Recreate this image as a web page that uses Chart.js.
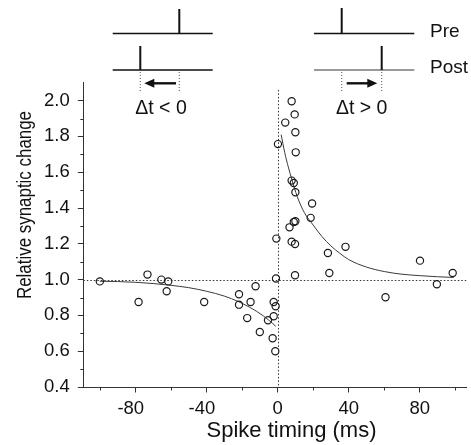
<!DOCTYPE html>
<html><head><meta charset="utf-8">
<script src="https://cdn.jsdelivr.net/npm/chart.js@4.4.1/dist/chart.umd.min.js"></script>
<style>html,body{margin:0;padding:0;background:#fff;overflow:hidden}canvas{display:block}</style>
</head><body>
<canvas id="c" width="471" height="445"></canvas>
<script>
// ---- data ----
const spikeTiming = [
  -100, -78.2, -73.2, -65.4, -61.5, -62.4, -41.3, -21.7, -21.7, -17.1, -15.2, -12.4, -10, -5.4,
  -2.2, -2.2, -1.1, -2.8, -1.3, -0.9, -0.7,
  7.9, 9.6, 4.3, 10, 0.2, 10.2, 7.9, 9.1, 10, 19.4, 18.6, 10, 9.1, 6.7, 7.9, 9.8,
  28.3, 38.2, 80.1, 98.5, 9.8, 29.1, 60.7, 89.6
];
const synapticChange = [
  0.99, 0.875, 1.028, 1.0, 0.99, 0.935, 0.875, 0.918, 0.86, 0.785, 0.875, 0.963, 0.707, 0.773,
  0.795, 0.875, 0.851, 0.672, 0.6, 1.006, 1.229,
  1.996, 1.923, 1.877, 1.823, 1.757, 1.711, 1.553, 1.54, 1.488, 1.425, 1.345, 1.326, 1.322, 1.292, 1.212, 1.199,
  1.149, 1.183, 1.106, 1.037, 1.024, 1.037, 0.901, 0.974
];
const ltdFitTiming = [-100, -90, -80, -70, -60, -50, -40, -30, -22, -16, -12, -8, -5, -3, -1];
const ltdFitChange = [0.991, 0.989, 0.985, 0.978, 0.968, 0.955, 0.935, 0.908, 0.877, 0.847, 0.824, 0.797, 0.774, 0.757, 0.739];
const ltpFitTiming = [2, 4, 6, 8, 11, 15, 20, 25, 30, 35, 40, 50, 60, 70, 80, 90, 99];
const ltpFitChange = [1.81, 1.71, 1.63, 1.56, 1.465, 1.375, 1.305, 1.24, 1.188, 1.147, 1.112, 1.07, 1.045, 1.03, 1.022, 1.016, 1.012];
const xTickValues = [-80, -40, 0, 40, 80];
const xMinorTickValues = [-100, -60, -20, 20, 60, 100];
const yTickValues = [0.4, 0.6, 0.8, 1.0, 1.2, 1.4, 1.6, 1.8, 2.0];
const yMinorTickValues = [0.5, 0.7, 0.9, 1.1, 1.3, 1.5, 1.7, 1.9];
const xRange = [-109.3, 106.1];
const yRange = [0.4, 2.1];
const baselineChange = 1.0;
const zeroTiming = 0;
const zeroLineTop = 2.06;
const xTitle = 'Spike timing (ms)';
const yTitle = 'Relative synaptic change';

const FONT = '"Liberation Sans", Arial, Helvetica, sans-serif';
const AXIS = '#333';
const INK = '#111';

const toXY = (xs, ys) => xs.map((v, i) => ({x: v, y: ys[i]}));

function line(ctx, x1, y1, x2, y2, w, c, dash) {
  ctx.save();
  ctx.strokeStyle = c; ctx.lineWidth = w;
  if (dash) ctx.setLineDash(dash);
  ctx.beginPath(); ctx.moveTo(x1, y1); ctx.lineTo(x2, y2); ctx.stroke();
  ctx.restore();
}
function arrow(ctx, x1, x2, y) {
  const dir = Math.sign(x2 - x1);
  const hl = 10, hw = 4.5;
  line(ctx, x1, y, x2 - dir * hl + dir, y, 2.4, INK);
  ctx.save(); ctx.fillStyle = INK; ctx.beginPath();
  ctx.moveTo(x2, y); ctx.lineTo(x2 - dir * hl, y - hw); ctx.lineTo(x2 - dir * hl, y + hw);
  ctx.closePath(); ctx.fill(); ctx.restore();
}

const decor = {
  id: 'decor',
  beforeDatasetsDraw(chart) {
    const {ctx, chartArea: a, scales: {x, y}} = chart;
    const yy = Math.round(y.getPixelForValue(baselineChange)) + 0.5;
    line(ctx, a.left, yy, a.right, yy, 1, '#333', [1.5, 2]);
    const xx = Math.round(x.getPixelForValue(zeroTiming)) + 0.5;
    line(ctx, xx, y.getPixelForValue(zeroLineTop), xx, a.bottom, 1, '#333', [1.5, 2]);
  },
  afterDraw(chart) {
    const {ctx, chartArea: a, scales: {x, y}} = chart;
    // minor ticks
    xMinorTickValues.forEach(v => {
      const px = Math.round(x.getPixelForValue(v)) + 0.5;
      line(ctx, px, a.bottom, px, a.bottom + 3.5, 1, AXIS);
    });
    yMinorTickValues.forEach(v => {
      const py = Math.round(y.getPixelForValue(v)) + 0.5;
      line(ctx, a.left - 3, py, a.left, py, 1, AXIS);
    });
    // axis titles
    ctx.save();
    ctx.fillStyle = INK;
    ctx.font = '22px ' + FONT;
    ctx.textAlign = 'center'; ctx.textBaseline = 'alphabetic';
    ctx.fillText(xTitle, 291.5, 436.5);
    ctx.translate(31, 205); ctx.rotate(-Math.PI / 2);
    ctx.font = '20.5px ' + FONT;
    const w = ctx.measureText(yTitle).width;
    ctx.scale(188 / w, 1);
    ctx.fillText(yTitle, 0, 0);
    ctx.restore();
    // timing diagrams
    // left (Δt < 0)
    line(ctx, 112.7, 33.5, 212.7, 33.5, 1.3, INK);
    line(ctx, 179.3, 9, 179.3, 33.5, 2, INK);
    line(ctx, 112.7, 70, 212.7, 70, 1.3, INK);
    line(ctx, 140.3, 46, 140.3, 70, 2, INK);
    line(ctx, 140.3, 72, 140.3, 92, 1, '#555', [1, 2]);
    line(ctx, 179.3, 72, 179.3, 92, 1, '#555', [1, 2]);
    arrow(ctx, 176, 144.3, 83.3);
    // right (Δt > 0)
    line(ctx, 314, 33.5, 414.3, 33.5, 1.3, INK);
    line(ctx, 341.7, 8, 341.7, 33.5, 2, INK);
    line(ctx, 314, 70, 414.3, 70, 1.3, '#777');
    line(ctx, 381.7, 46, 381.7, 70, 2, INK);
    line(ctx, 341.7, 72, 341.7, 92, 1, '#555', [1, 2]);
    line(ctx, 381.7, 72, 381.7, 92, 1, '#555', [1, 2]);
    arrow(ctx, 346.7, 377.3, 83.3);
    ctx.save();
    ctx.fillStyle = INK;
    ctx.font = '19.5px ' + FONT;
    ctx.textAlign = 'center'; ctx.textBaseline = 'alphabetic';
    ctx.fillText('\u0394t < 0', 161, 113.5);
    ctx.fillText('\u0394t > 0', 361.7, 113.5);
    ctx.font = '19px ' + FONT;
    ctx.textAlign = 'left';
    ctx.fillText('Pre', 430, 37);
    ctx.fillText('Post', 430, 72.5);
    ctx.restore();
  }
};

new Chart(document.getElementById('c'), {
  type: 'scatter',
  data: {
    datasets: [
      {
        label: 'Data', data: toXY(spikeTiming, synapticChange),
        pointRadius: 3.6, pointHoverRadius: 3.6, borderWidth: 1.2,
        borderColor: '#1a1a1a', backgroundColor: 'rgba(0,0,0,0)'
      },
      {
        type: 'line', label: 'LTD fit', data: toXY(ltdFitTiming, ltdFitChange),
        showLine: true, pointRadius: 0, borderColor: '#3a3a3a', borderWidth: 1,
        cubicInterpolationMode: 'monotone', fill: false
      },
      {
        type: 'line', label: 'LTP fit', data: toXY(ltpFitTiming, ltpFitChange),
        showLine: true, pointRadius: 0, borderColor: '#3a3a3a', borderWidth: 1,
        cubicInterpolationMode: 'monotone', fill: false
      }
    ]
  },
  options: {
    responsive: false, animation: false, events: [],
    layout: {padding: {top: 82.7, left: 0, right: 0, bottom: 0}},
    plugins: {legend: {display: false}, tooltip: {enabled: false}},
    scales: {
      x: {
        type: 'linear', min: xRange[0], max: xRange[1],
        afterBuildTicks: s => { s.ticks = xTickValues.map(v => ({value: v})); },
        afterFit: s => { s.height = 58; },
        ticks: {
          autoSkip: false, maxRotation: 0, padding: 5, color: INK,
          font: {family: FONT, size: 18.5},
          callback: v => v < 0 ? String(v) + '\u2002' : String(v)
        },
        grid: {drawOnChartArea: false, drawTicks: true, tickLength: 5.5, color: AXIS, lineWidth: 1},
        border: {display: true, color: AXIS, width: 1}
      },
      y: {
        type: 'linear', min: yRange[0], max: yRange[1],
        afterBuildTicks: s => { s.ticks = yTickValues.map(v => ({value: v})); },
        afterFit: s => { s.width = 83.3; },
        ticks: {
          autoSkip: false, padding: 8, color: INK,
          font: {family: FONT, size: 18.5},
          callback: v => Number(v).toFixed(1)
        },
        grid: {drawOnChartArea: false, drawTicks: true, tickLength: 5.5, color: AXIS, lineWidth: 1},
        border: {display: true, color: AXIS, width: 1}
      }
    }
  },
  plugins: [decor]
});
</script>
</body></html>
